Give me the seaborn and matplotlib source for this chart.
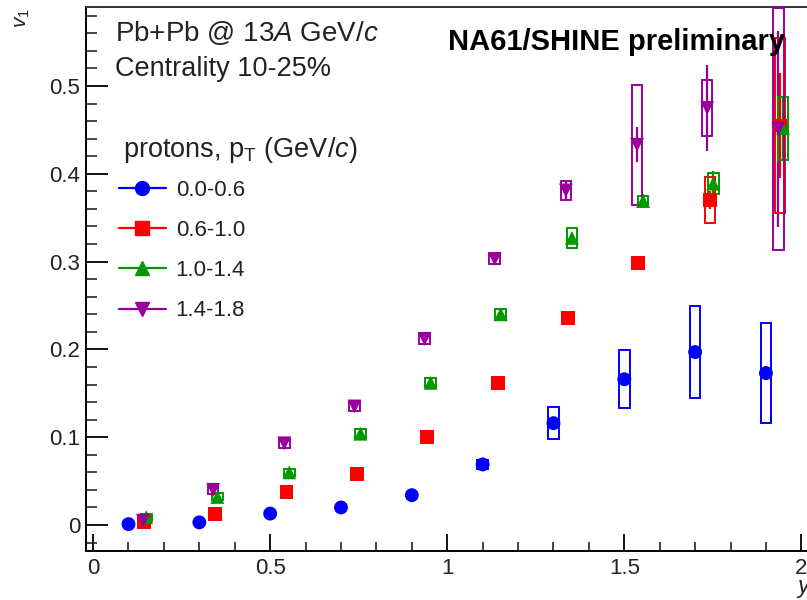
import numpy as np
import pandas as pd
import matplotlib
matplotlib.use("Agg")
import matplotlib.pyplot as plt
from matplotlib.patches import Rectangle
from matplotlib.lines import Line2D
from matplotlib.ticker import MultipleLocator
import seaborn as sns

sns.set_theme(style="ticks")
plt.rcParams["font.family"] = ["Liberation Sans", "DejaVu Sans"]
plt.rcParams["mathtext.fontset"] = "custom"
plt.rcParams["mathtext.rm"] = "Liberation Sans"
plt.rcParams["mathtext.it"] = "Liberation Sans:italic"

# pT bins
pt_labels = ["0.0-0.6", "0.6-1.0", "1.0-1.4", "1.4-1.8"]
colors = ["#0000ff", "#ff0000", "#009900", "#990099"]
markers = ["o", "s", "^", "v"]

# rapidity positions (slightly shifted per bin for visibility)
y_p0 = [0.10, 0.30, 0.50, 0.70, 0.90, 1.10, 1.30, 1.50, 1.70, 1.90]
y_p1 = [0.144, 0.345, 0.546, 0.744, 0.944, 1.143, 1.341, 1.539, 1.742, 1.940]
y_p2 = [0.150, 0.351, 0.554, 0.755, 0.953, 1.151, 1.352, 1.553, 1.751, 1.948]
y_p3 = [0.141, 0.339, 0.540, 0.738, 0.936, 1.134, 1.335, 1.536, 1.734, 1.935]

# directed flow v1
v1_p0 = [0.001, 0.003, 0.013, 0.020, 0.034, 0.069, 0.116, 0.166, 0.197, 0.173]
v1_p1 = [0.003, 0.013, 0.038, 0.058, 0.100, 0.162, 0.236, 0.298, 0.370, 0.455]
v1_p2 = [0.009, 0.032, 0.060, 0.104, 0.162, 0.240, 0.327, 0.369, 0.389, 0.452]
v1_p3 = [0.005, 0.040, 0.093, 0.135, 0.212, 0.303, 0.381, 0.433, 0.475, 0.451]

# statistical uncertainties
stat_p0 = [0.001, 0.001, 0.001, 0.002, 0.002, 0.003, 0.004, 0.005, 0.007, 0.008]
stat_p1 = [0.001, 0.002, 0.002, 0.003, 0.003, 0.004, 0.005, 0.007, 0.010, 0.060]
stat_p2 = [0.002, 0.002, 0.003, 0.003, 0.004, 0.005, 0.006, 0.008, 0.014, 0.035]
stat_p3 = [0.002, 0.003, 0.003, 0.004, 0.005, 0.006, 0.012, 0.020, 0.049, 0.112]

# systematic uncertainties (boxes)
syst_p0 = [0.002, 0.002, 0.002, 0.003, 0.003, 0.005, 0.018, 0.033, 0.052, 0.057]
syst_p1 = [0.002, 0.003, 0.003, 0.004, 0.005, 0.005, 0.006, 0.006, 0.026, 0.100]
syst_p2 = [0.004, 0.004, 0.004, 0.005, 0.005, 0.006, 0.011, 0.006, 0.012, 0.036]
syst_p3 = [0.005, 0.005, 0.005, 0.005, 0.006, 0.006, 0.011, 0.068, 0.032, 0.138]

ys = [y_p0, y_p1, y_p2, y_p3]
v1s = [v1_p0, v1_p1, v1_p2, v1_p3]
stats = [stat_p0, stat_p1, stat_p2, stat_p3]
systs = [syst_p0, syst_p1, syst_p2, syst_p3]

rows = []
for lab, yy, vv in zip(pt_labels, ys, v1s):
    for a, b in zip(yy, vv):
        rows.append({"y": a, "v1": b, "pT": lab})
df = pd.DataFrame(rows)

fig = plt.figure(figsize=(8.07, 6.0), dpi=100)
ax = fig.add_axes([86 / 807, 49 / 600, 726 / 807, 544 / 600])

box_hw = 0.015
for yy, vv, st, sy, c in zip(ys, v1s, stats, systs, colors):
    ax.errorbar(yy, vv, yerr=st, fmt="none", ecolor=c, elinewidth=1.6,
                capsize=0, zorder=2)
    for a, b, s in zip(yy, vv, sy):
        ax.add_patch(Rectangle((a - box_hw, b - s), 2 * box_hw, 2 * s,
                               fill=False, edgecolor=c, linewidth=1.4,
                               zorder=3))

sns.scatterplot(data=df, x="y", y="v1", hue="pT", style="pT",
                hue_order=pt_labels, style_order=pt_labels,
                palette=colors, markers=markers, s=100, edgecolor="none",
                legend=False, ax=ax, zorder=4)

ax.set_xlim(-0.02, 2.03)
ax.set_ylim(-0.0296, 0.590)
ax.set_xlabel("")
ax.set_ylabel("")

ax.xaxis.set_minor_locator(MultipleLocator(0.1))
ax.yaxis.set_minor_locator(MultipleLocator(0.02))
ax.set_xticks([0, 0.5, 1, 1.5, 2])
ax.set_xticklabels(["0", "0.5", "1", "1.5", "2"])
ax.set_yticks([0, 0.1, 0.2, 0.3, 0.4, 0.5])
ax.set_yticklabels(["0", "0.1", "0.2", "0.3", "0.4", "0.5"])

ax.tick_params(axis="y", which="major", direction="in", length=15.5,
               width=1.3, labelsize=16, pad=4, colors="black",
               labelcolor="#222222")
ax.tick_params(axis="y", which="minor", direction="in", length=8,
               width=1.2)
ax.tick_params(axis="x", which="major", direction="in", length=12,
               width=1.3, labelsize=16, pad=5, colors="black",
               labelcolor="#222222")
ax.tick_params(axis="x", which="minor", direction="in", length=6.5,
               width=1.2)
ax.tick_params(which="both", top=False, right=False)
for s in ax.spines.values():
    s.set_linewidth(1.4)
    s.set_color("black")
ax.spines["top"].set_color("#333333")


def px(xp, yp):
    return (xp / 807, 1 - yp / 600)


txt = "#222222"
fig.text(*px(13, 8), r"$v_1$", rotation=90, fontsize=15,
         ha="left", va="top", color=txt)
fig.text(*px(796, 600), r"$y$", fontsize=17, ha="left", va="bottom",
         color=txt)

fig.text(*px(115, 41), r"Pb+Pb @ 13$A$ GeV/$c$", fontsize=20,
         ha="left", va="baseline", color=txt)
fig.text(*px(115, 76), "Centrality 10-25%", fontsize=19.5,
         ha="left", va="baseline", color=txt)
fig.text(*px(123, 157), r"protons, p$_\mathrm{T}$ (GeV/$c$)", fontsize=19.5,
         ha="left", va="baseline", color=txt)
fig.text(*px(448, 50), "NA61/SHINE preliminary", fontsize=21,
         fontweight="bold", ha="left", va="baseline", color="black")

handles = [Line2D([0], [0], color=c, marker=m, markersize=10, linewidth=1.6)
           for c, m in zip(colors, markers)]
leg = fig.legend(handles, pt_labels, loc="upper left",
                 bbox_to_anchor=px(119, 180), frameon=False, fontsize=16,
                 handlelength=2.1, handletextpad=0.45, labelspacing=0.86,
                 borderaxespad=0, borderpad=0)
for t in leg.get_texts():
    t.set_color(txt)

fig.savefig("out.png", dpi=100)
